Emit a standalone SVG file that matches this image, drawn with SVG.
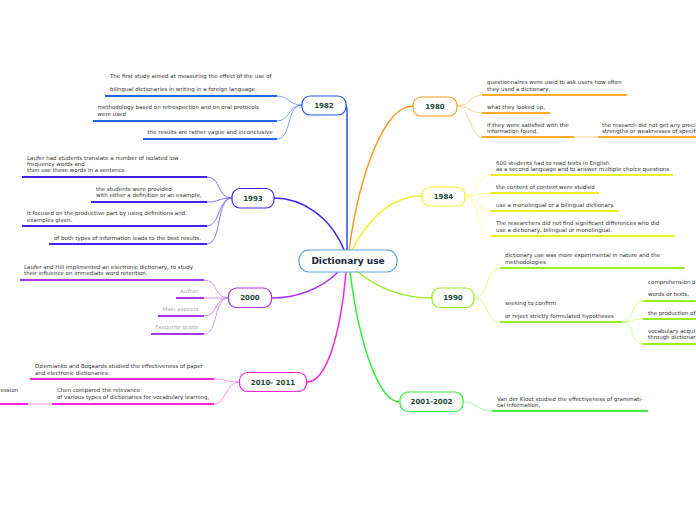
<svg xmlns="http://www.w3.org/2000/svg" width="696" height="520" viewBox="0 0 696 520">
<style>
.t{font-family:"DejaVu Sans","Verdana",sans-serif;font-size:5.5px;fill:#333}
.g{font-family:"DejaVu Sans","Verdana",sans-serif;font-size:5.5px;fill:#aaa}
.n{font-family:"DejaVu Sans","Verdana",sans-serif;font-size:7px;font-weight:bold;fill:#1d4a3c}
.c{font-family:"DejaVu Sans","Verdana",sans-serif;font-size:9px;font-weight:bold;fill:#1a2540}
.box{fill:#fff;stroke-width:1.2}
path{fill:none}
.u{stroke-width:2}
.k{stroke-width:0.9}
.m{stroke-width:1.5}
</style>
<g id="connectors">
<path class="m" stroke="#2255ee" d="M347,250 L347,112 Q347,105 345,105"/>
<path class="m" stroke="#ff9922" d="M349,250 C360,170 385,106 413,106"/>
<path class="m" stroke="#f0f030" d="M352,250 C372,212 395,196 422,196"/>
<path class="m" stroke="#4422ee" d="M344,250 C330,215 300,198 274,198"/>
<path class="m" stroke="#aa33ee" d="M338,272 C320,290 295,298 272,298"/>
<path class="m" stroke="#ff22dd" d="M346,272 C340,340 325,382 307,382"/>
<path class="m" stroke="#33ee33" d="M350,272 C360,350 380,402 400,402"/>
<path class="m" stroke="#99ee22" d="M358,272 C380,290 405,298 432,298"/>
<g stroke="#7799ff" class="k">
<path d="M302,105 C288,105 290,96 277,96"/>
<path d="M302,105 C288,105 290,121 277,121"/>
<path d="M302,105 C286,105 292,139 277,139"/>
</g>
<g stroke="#2266ee" class="u">
<path d="M105,96 H277"/><path d="M93,121 H277"/><path d="M143,139 H277"/>
</g>
<g stroke="#7766ff" class="k">
<path d="M232,198 C216,198 222,177 207,177"/>
<path d="M232,198 C218,198 220,202 207,202"/>
<path d="M232,198 C218,198 220,226 207,226"/>
<path d="M232,198 C216,198 222,244 207,244"/>
</g>
<g stroke="#4422ff" class="u">
<path d="M22,177 H207"/><path d="M91,202 H207"/><path d="M22,226 H207"/><path d="M49,244 H207"/>
</g>
<g stroke="#cc88ff" class="k">
<path d="M228,298 C214,298 218,280 204,280"/>
<path d="M228,298 H204"/>
<path d="M228,298 C214,298 218,316 204,316"/>
<path d="M228,298 C214,298 218,334 204,334"/>
</g>
<g stroke="#aa33ee" class="u">
<path d="M20,280 H204"/><path d="M176,298 H204"/><path d="M158,316 H204"/><path d="M151,334 H204"/>
</g>
<g stroke="#ff88ee" class="k">
<path d="M239,382 C226,382 226,379 214,379"/>
<path d="M239,382 C226,382 226,404 214,404"/>
<path d="M52,404 H28"/>
</g>
<g stroke="#ff22dd" class="u">
<path d="M30,379 H214"/><path d="M52,404 H214"/><path d="M0,404 H28"/>
</g>
<g stroke="#ffcc88" class="k">
<path d="M457,106 C470,106 470,95 482,95"/>
<path d="M457,106 C470,106 470,113 482,113"/>
<path d="M457,106 C470,106 470,137 482,137"/>
<path d="M574,137 H598"/>
</g>
<g stroke="#ffaa22" class="u">
<path d="M482,95 H627"/><path d="M482,113 H550"/><path d="M482,137 H574"/><path d="M598,137 H700"/>
</g>
<g stroke="#ffff88" class="k">
<path d="M465,196 C479,196 477,175 491,175"/>
<path d="M465,196 C479,196 477,193 491,193"/>
<path d="M465,196 C479,196 477,211 491,211"/>
<path d="M465,196 C479,196 477,236 491,236"/>
</g>
<g stroke="#eeee22" class="u">
<path d="M491,175 H673"/><path d="M491,193 H599"/><path d="M491,211 H619"/><path d="M491,236 H675"/>
</g>
<g stroke="#ccff88" class="k">
<path d="M474,298 C490,298 484,268 500,268"/>
<path d="M474,298 C490,298 484,322 500,322"/>
<path d="M622,322 C636,322 629,301 643,301"/>
<path d="M622,322 C636,322 629,319 643,319"/>
<path d="M622,322 C636,322 629,344 643,344"/>
</g>
<g stroke="#99ee22" class="u">
<path d="M500,268 H685"/><path d="M500,322 H622"/><path d="M643,301 H700"/><path d="M643,319 H700"/><path d="M643,344 H700"/>
</g>
<path class="k" stroke="#99ff99" d="M463,402 C478,402 476,411 492,411"/>
<path class="u" stroke="#44ee44" d="M492,411 H648"/>
</g>
<g id="center">
<rect class="box" x="299" y="250" width="98" height="22" rx="10" stroke="#5a9fd8"/>
<text class="c" x="348" y="264.2" text-anchor="middle">Dictionary use</text>
</g>
<g id="n1982">
<rect class="box" x="302" y="96" width="44" height="19" rx="8" stroke="#2255ee"/>
<text class="n" x="324" y="108" text-anchor="middle">1982</text>
<text class="t" x="110" y="78">The first study aimed at measuring the effect of the use of</text>
<text class="t" x="110" y="91">bilingual dictionaries in writing in a foreign language.</text>
<text class="t" x="97.5" y="109">methodology based on retrospection and on oral protocols</text>
<text class="t" x="97.5" y="115.5">were used</text>
<text class="t" x="147.5" y="133.5">the results are rather vague and inconclusive</text>
</g>
<g id="n1980">
<rect class="box" x="413" y="97" width="44" height="19" rx="8" stroke="#ff9922"/>
<text class="n" x="435" y="109" text-anchor="middle">1980</text>
<text class="t" x="487" y="84">questionnaires were used to ask users how often</text>
<text class="t" x="487" y="90.5">they used a dictionary,</text>
<text class="t" x="487" y="108.5">what they looked up,</text>
<text class="t" x="487" y="126.5">if they were satisfied with the</text>
<text class="t" x="487" y="133">information found.</text>
<text class="t" x="602" y="126.5">the research did not get any preci</text>
<text class="t" x="602" y="133">strengths or weaknesses of specif</text>
</g>
<g id="n1984">
<rect class="box" x="422" y="187" width="43" height="19" rx="8" stroke="#f0f030"/>
<text class="n" x="443.5" y="199" text-anchor="middle">1984</text>
<text class="t" x="496" y="164.5">600 students had to read texts in English</text>
<text class="t" x="496" y="171">as a second language and to answer multiple choice questions</text>
<text class="t" x="496" y="188.5">the content of context were studied</text>
<text class="t" x="496" y="206.5">use a monolingual or a bilingual dictionary.</text>
<text class="t" x="496" y="224.5">The researchers did not find significant differences who did</text>
<text class="t" x="496" y="231.5">use a dictionary, bilingual or monolingual.</text>
</g>
<g id="n1993">
<rect class="box" x="232" y="188.5" width="42" height="19.5" rx="8" stroke="#4422ee"/>
<text class="n" x="253" y="200.8" text-anchor="middle">1993</text>
<text class="t" x="27" y="159.5">Laufer had students translate a number of isolated low</text>
<text class="t" x="27" y="165.8">frequency words and</text>
<text class="t" x="27" y="172">then use these words in a sentence.</text>
<text class="t" x="96" y="190.5">the students were provided</text>
<text class="t" x="96" y="197">with either a definition or an example,</text>
<text class="t" x="27" y="215">it focused on the productive part by using definitions and</text>
<text class="t" x="27" y="221.8">examples given.</text>
<text class="t" x="54" y="239.5">of both types of information leads to the best results.</text>
</g>
<g id="n2000">
<rect class="box" x="228.5" y="288" width="43" height="19.5" rx="8" stroke="#aa33ee"/>
<text class="n" x="250" y="300.3" text-anchor="middle">2000</text>
<text class="t" x="24" y="269">Laufer and Hill implimented an electronic dictionary, to study</text>
<text class="t" x="24" y="274.8">their influence on immediate word retention.</text>
<text class="g" x="198.5" y="292.5" text-anchor="end">Author</text>
<text class="g" x="198.5" y="310.5" text-anchor="end">Main aspects</text>
<text class="g" x="198.5" y="328.5" text-anchor="end">Favourite quote</text>
</g>
<g id="n1990">
<rect class="box" x="432" y="288" width="42" height="19.5" rx="8" stroke="#99ee22"/>
<text class="n" x="453" y="300.3" text-anchor="middle">1990</text>
<text class="t" x="505" y="256.8">dictionary use was more experimental in nature and the</text>
<text class="t" x="505" y="263.5">methodologies</text>
<text class="t" x="505" y="305">seeking to confirm</text>
<text class="t" x="505" y="317.8">or reject strictly formulated hypotheses</text>
<text class="t" x="648" y="283.8">comprehension o</text>
<text class="t" x="648" y="296">words or texts,</text>
<text class="t" x="648" y="314.5">the production of</text>
<text class="t" x="648" y="332.5">vocabulary acqui</text>
<text class="t" x="648" y="339">through dictionar</text>
</g>
<g id="n2010">
<rect class="box" x="239.5" y="372.5" width="67" height="19" rx="8" stroke="#ff22dd"/>
<text class="n" x="273" y="384.7" text-anchor="middle">2010- 2011</text>
<text class="t" x="35" y="367.5">Dziemianko and Bogaards studied the effectiveness of paper</text>
<text class="t" x="35" y="375">and electronic dictionaries</text>
<text class="t" x="57" y="392.3">Chen compared the relevance</text>
<text class="t" x="57" y="399">of various types of dictionaries for vocabulary learning,</text>
<text class="t" x="18" y="392.3" text-anchor="end">ession</text>
</g>
<g id="n2001">
<rect class="box" x="400" y="392" width="63" height="19.5" rx="8" stroke="#33ee33"/>
<text class="n" x="431.5" y="404.3" text-anchor="middle">2001-2002</text>
<text class="t" x="497" y="400.5">Van der Kloot studied the effectiveness of grammati-</text>
<text class="t" x="497" y="406.5">cal information,</text>
</g>
</svg>
